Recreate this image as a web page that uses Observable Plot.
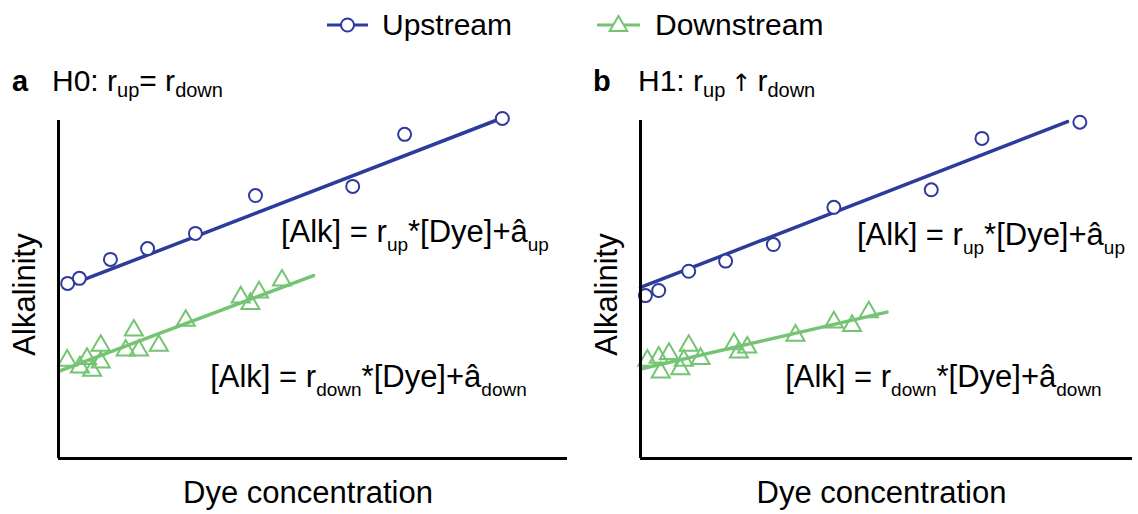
<!DOCTYPE html>
<html><head><meta charset="utf-8">
<script src="https://cdn.jsdelivr.net/npm/d3@7"></script>
<script src="https://cdn.jsdelivr.net/npm/@observablehq/plot@0.6"></script>
<style>
body{margin:0;background:#fff;}
#fig{position:relative;width:1138px;height:514px;font-family:"Liberation Sans",Arial,sans-serif;}
#fig > svg{position:absolute;top:0;overflow:visible;}
</style></head><body><div id="fig"></div>
<script>
// ---------- data ----------
const seriesNames = ["Upstream", "Downstream"];
const panelLabels = ["a", "b"];
const hypotheses = ["H0", "H1"];
const relations = ["=", "↑"];
const xLabel = "Dye concentration";
const yLabel = "Alkalinity";

// panel a
const upA_x = [1.8, 4.1, 10.2, 17.5, 26.9, 38.7, 57.8, 68.0, 87.2];
const upA_y = [51.8, 53.3, 58.9, 62.1, 66.6, 77.8, 80.5, 95.9, 100.6];
const downA_x = [1.7, 4.2, 5.6, 6.6, 8.3, 8.3, 13.2, 14.8, 15.8, 19.7, 25.0, 35.8, 37.7, 39.4, 43.9];
const downA_y = [29.0, 27.0, 29.5, 26.0, 33.4, 28.5, 32.0, 37.9, 32.0, 33.4, 40.8, 47.7, 45.8, 49.2, 52.7];
const fitUpA_x = [1.0, 85.9], fitUpA_y = [50.6, 100.0];
const fitDownA_x = [0.4, 50.1], fitDownA_y = [26.0, 54.1];

// panel b
const upB_x = [1.0, 3.7, 9.8, 17.3, 27.0, 39.3, 59.1, 69.4, 89.3];
const upB_y = [48.2, 49.7, 55.4, 58.4, 63.3, 74.3, 79.5, 94.7, 99.5];
const downB_x = [1.4, 3.7, 4.1, 5.8, 8.1, 8.8, 9.8, 12.2, 19.0, 20.0, 21.7, 31.5, 39.3, 43.0, 46.4];
const downB_y = [29.0, 29.9, 25.5, 31.0, 26.5, 29.0, 33.4, 29.5, 33.9, 31.4, 32.9, 36.4, 40.3, 39.3, 43.3];
const fitUpB_x = [0.0, 86.8], fitUpB_y = [50.6, 99.7];
const fitDownB_x = [0.0, 50.1], fitDownB_y = [26.5, 43.3];

// ---------- styles / layout ----------
const BLUE = "#2c3b9c", GREEN = "#74c474";
const FONT = "Liberation Sans, Arial, sans-serif";
const FS = 31, SUB = 19;

const zip = (xs, ys) => xs.map((x, i) => ({x, y: ys[i]}));

function panel(cfg) {
  return Plot.plot({
    width: cfg.width, height: 514,
    marginLeft: cfg.ml, marginRight: cfg.mr, marginTop: 120, marginBottom: 56,
    style: {fontFamily: FONT, background: "transparent", overflow: "visible"},
    x: {domain: [0, 100], axis: null},
    y: {domain: [0, 100], axis: null},
    marks: [
      Plot.line(zip(cfg.fdx, cfg.fdy), {x: "x", y: "y", stroke: GREEN, strokeWidth: 3.5}),
      Plot.line(zip(cfg.fux, cfg.fuy), {x: "x", y: "y", stroke: BLUE, strokeWidth: 3.5}),
      Plot.dot(zip(cfg.dx, cfg.dy), {x: "x", y: "y", symbol: "triangle", r: 6.7, stroke: GREEN, strokeWidth: 2, fill: "none"}),
      Plot.dot(zip(cfg.ux, cfg.uy), {x: "x", y: "y", symbol: "circle", r: 6.5, stroke: BLUE, strokeWidth: 2, fill: "white"}),
      Plot.ruleX([0], {stroke: "black", strokeWidth: 3}),
      Plot.ruleY([0], {stroke: "black", strokeWidth: 3}),
      Plot.text([xLabel], {frameAnchor: "bottom", textAnchor: "middle", dx: -5, dy: 44, fontSize: FS, fill: "black"}),
      Plot.text([yLabel], {frameAnchor: "left", textAnchor: "middle", lineAnchor: "middle", rotate: -90, dx: -33, dy: 5, fontSize: FS, fill: "black"})
    ]
  });
}

// rich text with subscripts: parts = [[text, isSub, fontFamily?, fontSize?], ...]
function rich(svg, x, y, parts, size, subSize, shift) {
  const t = d3.select(svg).append("text")
    .attr("x", x).attr("y", y).attr("text-anchor", "start")
    .attr("font-family", FONT).attr("font-size", size).attr("fill", "black");
  let cur = 0;
  for (const [s, sub, ff, fsz] of parts) {
    const target = sub ? shift : 0;
    const ts = t.append("tspan").attr("dy", target - cur).attr("font-size", fsz || (sub ? subSize : size))
      .style("white-space", "pre").text(s);
    if (ff) ts.attr("font-family", ff);
    cur = target;
  }
  return t;
}

const fig = document.getElementById("fig");

const cfgs = [
  {width: 570, ml: 58, mr: 3, left: 0, ux: upA_x, uy: upA_y, dx: downA_x, dy: downA_y,
   fux: fitUpA_x, fuy: fitUpA_y, fdx: fitDownA_x, fdy: fitDownA_y,
   eqUp: [43.8, 63.9], eqDown: [29.9, 21.0]},
  {width: 568, ml: 70, mr: 6, left: 570, ux: upB_x, uy: upB_y, dx: downB_x, dy: downB_y,
   fux: fitUpB_x, fuy: fitUpB_y, fdx: fitDownB_x, fdy: fitDownB_y,
   eqUp: [44.1, 63.0], eqDown: [29.5, 21.0]}
];

cfgs.forEach((cfg, i) => {
  const p = panel(cfg);
  p.style.left = cfg.left + "px";
  fig.appendChild(p);
  const sx = p.scale("x"), sy = p.scale("y");
  const X = v => sx.apply ? sx.apply(v) : cfg.ml + (cfg.width - cfg.ml - cfg.mr) * v / 100;
  const Y = v => sy.apply ? sy.apply(v) : 458 - 338 * v / 100;
  rich(p, X(cfg.eqUp[0]), Y(cfg.eqUp[1]),
    [["[Alk] = r", false], ["up", true], ["*[Dye]+â", false], ["up", true]], FS, SUB, 9);
  rich(p, X(cfg.eqDown[0]), Y(cfg.eqDown[1]),
    [["[Alk] = r", false], ["down", true], ["*[Dye]+â", false], ["down", true]], FS, SUB, 9);
});

// overlay: legend + panel titles
const ov = d3.create("svg").attr("width", 1138).attr("height", 514).style("left", "0px");
fig.appendChild(ov.node());
const o = ov.node();

// legend
const lg = [
  {x0: 327, x1: 368, tx: 382, color: BLUE, sym: d3.symbolCircle, fill: "white"},
  {x0: 597, x1: 640, tx: 655, color: GREEN, sym: d3.symbolTriangle, fill: "white"}
];
lg.forEach((l, i) => {
  ov.append("line").attr("x1", l.x0).attr("x2", l.x1).attr("y1", 25).attr("y2", 25)
    .attr("stroke", l.color).attr("stroke-width", 3);
  ov.append("path").attr("d", d3.symbol(l.sym, Math.PI * 6.5 * 6.5)())
    .attr("transform", `translate(${(l.x0 + l.x1) / 2},${i ? 26 : 25})`)
    .attr("fill", l.fill).attr("stroke", l.color).attr("stroke-width", 2);
  ov.append("text").attr("x", l.tx).attr("y", 35).attr("font-family", FONT)
    .attr("font-size", 30).attr("fill", "black").text(seriesNames[i]);
});

// titles
const titleX = [[12, 52], [593, 638]];
panelLabels.forEach((lab, i) => {
  ov.append("text").attr("x", titleX[i][0]).attr("y", 91).attr("font-family", FONT)
    .attr("font-size", 29).attr("font-weight", "bold").attr("fill", "black").text(lab);
  const relParts = relations[i] === "="
    ? [["= r", false]]
    : [["\u2009", false], [relations[i], false, "DejaVu Sans", 24], ["\u2009r", false]];
  rich(o, titleX[i][1], 91,
    [[hypotheses[i] + ": r", false], ["up", true], ...relParts, ["down", true]], 30, 20, 6);
});
</script>
</body></html>
